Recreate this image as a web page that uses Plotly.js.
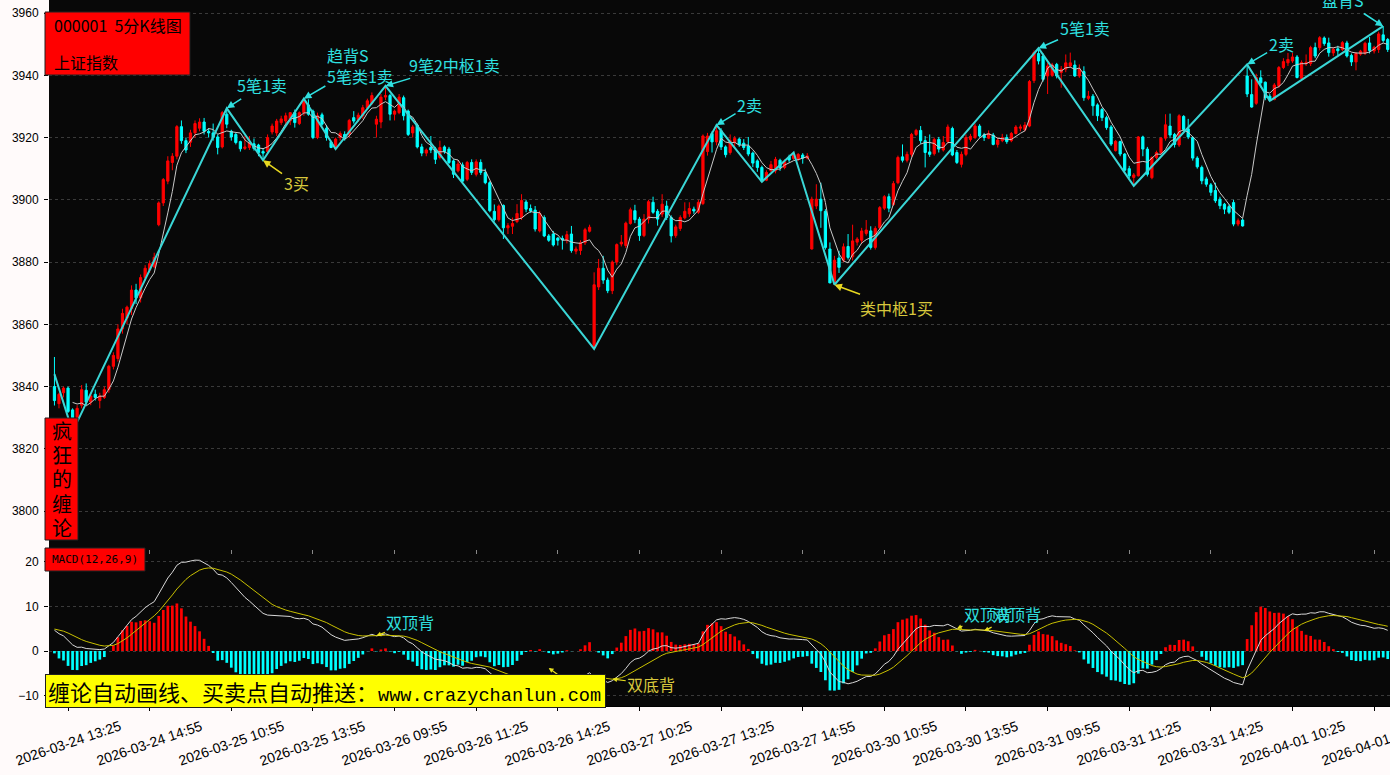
<!DOCTYPE html>
<html><head><meta charset="utf-8">
<script src="https://cdn.plot.ly/plotly-3.0.1.min.js"></script>
<style>html,body{margin:0;padding:0;background:#fffafa;}#chart{width:1390px;height:775px;}</style>
</head><body><div id="chart"></div>
<script>
// ---- data ----
const tradeDays = ['2026-03-24','2026-03-25','2026-03-26','2026-03-27','2026-03-30','2026-03-31','2026-04-01'];
const firstBar = '2026-03-24 13:10';
const lastBar = '2026-04-01 13:40';
const tickLabels = ['2026-03-24 13:25','2026-03-24 14:55','2026-03-25 10:55','2026-03-25 13:55','2026-03-26 09:55','2026-03-26 11:25','2026-03-26 14:25','2026-03-27 10:25','2026-03-27 13:25','2026-03-27 14:55','2026-03-30 10:55','2026-03-30 13:55','2026-03-31 09:55','2026-03-31 11:25','2026-03-31 14:25','2026-04-01 10:25','2026-04-01 13:25'];
const priceTicks = [3800,3820,3840,3860,3880,3900,3920,3940,3960];
const macdTicks = [-10,0,10,20];

const opens = [
3840,3834.5,3838,3839.5,3832.5,3830,3834,3838.8,3835,3837.5,
3835.5,3836.5,3839,3846.5,3849,3858.5,3862,3865,3871,3868.5,
3875,3877.5,3878.5,3892,3899,3906,3912,3914,3923.5,3919,
3918.5,3921.5,3923,3925,3922,3921.5,3920.2,3917,3927.5,3922,
3921,3918.7,3916.5,3916.8,3918,3917.6,3915.5,3915.5,3921.8,3921.5,
3924.8,3925.3,3925.4,3928,3924.5,3928,3930.5,3928.5,3920,3927.3,
3923,3918.5,3916.5,3920,3921,3921,3926.4,3925.8,3927,3929.5,
3931,3924.3,3925,3933,3933.5,3927.5,3928,3932.8,3928.5,3921.5,
3924,3917,3915,3916.8,3916.3,3913.6,3917,3916.3,3912.5,3909.3,
3911.2,3906.6,3912,3908.2,3912,3908.8,3905.5,3896.3,3893.6,3898.2,
3891,3891.5,3893,3894.3,3899.3,3897.2,3896.7,3890,3894.3,3888.4,
3889,3887.7,3887.6,3887,3889,3883.5,3883.7,3886.2,3889.9,3852.5,
3872,3878,3874.2,3870.8,3880,3885.8,3885.3,3892.4,3896.5,3893.8,
3888.5,3893.8,3899.2,3896.3,3895.4,3898,3894.3,3888.5,3890.8,3894.2,
3895.5,3897,3896,3898.8,3915.5,3921.3,3918.6,3922.2,3917,3915.2,
3918.4,3919.5,3918.2,3917.3,3915,3912.5,3910.4,3906.3,3909.3,3909.3,
3912.7,3910.4,3913.8,3913.3,3913,3914.4,3913.4,3884.2,3898,3900.2,
3896.3,3884.2,3873.3,3881.3,3880.6,3885,3881.7,3886.4,3887,3889.2,
3890,3884.7,3891,3897.3,3901,3898.5,3905.5,3913.8,3912.7,3914.6,
3921,3922.3,3919,3915.4,3914.8,3919.4,3916,3918.7,3922.9,3915.2,
3911.4,3914.6,3919.4,3920,3923.7,3920.9,3919.8,3920.8,3917.8,3919,
3920,3919,3921.3,3923,3922.5,3923.7,3938.3,3947,3946.2,3939.8,
3940,3943.5,3940.9,3942,3943,3943.3,3939.8,3941.2,3932.6,3933.3,
3930.5,3929,3926.4,3923.4,3915.8,3918.7,3914.7,3910,3907.2,3907.7,
3920.2,3916.3,3907.1,3913.6,3915.2,3919.8,3923.7,3921,3917.6,3926.8,
3922.8,3920,3913.4,3910.4,3906.7,3904.8,3903,3900.2,3898.6,3897.8,
3899.1,3892.2,3893.5,3939.8,3933.8,3931,3939.2,3937.8,3933.3,3932.2,
3936.6,3942.5,3944,3944.6,3945.9,3939,3943.7,3943.8,3948.9,3948.9,
3952,3950.4,3947.2,3948.5,3948.3,3950.4,3946.4,3944.3,3946.8,3947.1,
3950.4,3947.8,3948.3,3953,3951.5];
const highs = [
3849.5,3838,3840,3840,3833,3834,3840.5,3841,3838,3839,
3838,3840,3847,3851,3860,3865,3866,3872.5,3873,3876,
3879,3880.5,3883,3899.5,3907,3914,3915,3924,3925.5,3920,
3922.5,3925.5,3926.2,3926.3,3923,3924.5,3921,3928.5,3929.4,3922.5,
3921.5,3919,3920.5,3920.5,3919.7,3918,3916.5,3921,3924.5,3926,
3927,3928,3928.2,3929,3928.4,3932.5,3932.3,3929,3928,3928,
3924,3919,3920,3922,3922,3926,3928.5,3928,3930.5,3932.5,
3934.5,3927,3934,3936.6,3934,3929,3934,3933.5,3929,3924,
3924.5,3918,3916.5,3920.5,3917,3919,3917.5,3917,3913,3912.8,
3912,3912.5,3913,3913,3913,3910,3906,3898.5,3898.5,3898.5,
3892.5,3894.3,3898.6,3901.8,3900,3898.5,3898,3896.5,3895,3889,
3890,3888,3888.5,3890,3891.6,3885,3887,3891,3892,3876.7,
3881,3882,3875,3880.5,3886,3888.7,3893,3897.5,3898.4,3894.5,
3895.4,3900,3901,3897,3901.8,3899.7,3895,3892,3895,3899.2,
3899.2,3897.8,3900,3921,3921.5,3922,3924,3923,3917.5,3921,
3920.5,3920,3919.5,3920.2,3915.5,3913,3911,3909.5,3912.5,3913.8,
3913.2,3913,3914.5,3915.2,3915,3915,3915,3901,3905,3905.5,
3897,3886.3,3882,3883.6,3886,3889,3892,3888,3891,3893.5,
3891.5,3891.5,3898,3901.5,3902,3906,3914.2,3917.8,3915.5,3921.5,
3922.8,3923.7,3920.5,3921,3920,3920.2,3920.5,3924.2,3923.5,3916,
3915.5,3921,3921.2,3924.5,3924.3,3921.5,3922.3,3921.5,3920,3921.2,
3921,3921.8,3924,3924.2,3925,3938.5,3948,3948.7,3947,3944,
3944,3944,3943,3946.7,3947.3,3944.8,3943.5,3942.9,3935,3934,
3931,3929.5,3927,3924,3919.2,3919,3915,3910.9,3908.6,3920.5,
3920.6,3917,3914,3915.8,3920.2,3927.5,3927.7,3921.5,3927.5,3927.2,
3926,3920.4,3914,3911,3907.4,3905.4,3905.5,3901,3899,3898.5,
3900,3894,3894,3943.5,3938.7,3940.5,3941.6,3938,3934,3937.5,
3943,3945.5,3947.2,3947.2,3946.5,3944.8,3946.7,3949.5,3950.5,3952.6,
3952.5,3952.1,3949,3949.5,3951,3951.1,3947,3947.5,3948.2,3950.8,
3952.3,3949.5,3954,3955.8,3952];
const lows = [
3833.9,3833,3836.5,3831.5,3825.5,3829.5,3833,3834,3834,3835.5,
3833,3836,3838,3845.5,3848,3857,3860,3863,3866.5,3867,
3874,3876.5,3878,3891.5,3898,3905,3909.5,3913,3918,3915,
3917,3920,3922,3921,3920,3919,3914.6,3916.5,3923,3919,
3917.8,3915.5,3916,3916,3915.8,3914,3912.7,3915,3921,3920.5,
3924,3924.5,3924,3923.2,3924,3927,3927,3919.5,3919.5,3923.8,
3919,3916.6,3916.3,3919,3919,3920,3924.5,3925,3926,3929,
3930.5,3920,3923,3932,3925.5,3925.5,3927.5,3925.5,3920.5,3920,
3916.5,3914,3914,3915,3911.5,3913,3914.8,3911.5,3907,3908.8,
3905.5,3906,3908,3907.5,3908,3905,3896,3893,3893,3887.4,
3889,3889,3892.5,3893.5,3896,3895.8,3889.8,3889.5,3888,3886.5,
3885,3885.3,3884,3886,3883,3882.5,3882.3,3885.5,3889.5,3852.1,
3871,3873,3870,3869.7,3879,3885,3884.5,3892,3892.5,3886.8,
3888,3892.4,3895.5,3891.7,3894.5,3893.5,3886.3,3887.8,3890,3893.7,
3894.5,3895.5,3895.5,3898.3,3914.2,3915.2,3917.5,3916,3913.6,3914.5,
3917,3917,3916,3914,3910.5,3909,3905.8,3906,3909,3908.5,
3909.3,3909.8,3912,3912.8,3912.5,3911.6,3913,3884,3897,3891,
3884,3873.2,3872.7,3876.5,3880,3880.8,3880.5,3885.3,3886,3888.5,
3884,3884,3890.5,3896.7,3896,3898,3905,3912,3912,3913.8,
3920.5,3918,3910.4,3913.8,3914.2,3915.2,3915.5,3918,3914,3911.5,
3910.4,3914,3918.7,3919.5,3920,3918.9,3919.5,3917.5,3916.8,3918.5,
3918,3918.5,3921,3922,3922,3923.3,3937.5,3943.5,3938,3934,
3939.5,3939,3936,3941,3942.5,3939.5,3939.2,3931.8,3932,3927,
3925.3,3925.3,3922.5,3917.3,3915.5,3914,3909,3907,3904.5,3907.5,
3914,3907.5,3906.6,3913,3914.5,3919,3919.8,3916.8,3917,3922,
3919.5,3912.6,3910,3905,3904.2,3901.3,3899,3897,3895.4,3895.4,
3891.5,3891.5,3891.4,3933,3929.6,3930.5,3936.1,3932,3931.8,3932,
3936,3942,3943,3944,3939,3938.5,3943,3943,3945.5,3948,
3949.5,3946,3946.2,3946.5,3947.8,3945.7,3943,3941.6,3946.3,3946.5,
3947,3947,3947.2,3950.5,3947.5];
const closes = [
3835.5,3837.5,3839.5,3832,3830,3833,3839,3835,3837,3836.5,
3837,3839,3846.5,3850,3858.5,3863.5,3865.5,3871,3868.5,3875,
3878,3879.5,3881.5,3899,3906.5,3912.5,3914,3923.5,3919,3916,
3921.5,3924.5,3925,3922,3921.5,3920,3916.8,3928,3924.3,3920.2,
3918.4,3916.4,3917,3918.4,3916.5,3915.2,3915,3920,3923.7,3925.3,
3926,3927,3928,3924.8,3928,3931.7,3927.5,3920,3927,3924.3,
3920,3916.8,3919.5,3921.3,3919.6,3925.5,3925.3,3927.2,3929.6,3931.8,
3933.5,3925.9,3933,3933.5,3927.5,3928.5,3933,3927,3921,3923.4,
3917,3915,3916,3916,3913,3916.8,3915.5,3912,3908.2,3911.5,
3906,3912,3908.8,3912.2,3908.8,3905.5,3896.5,3893.6,3898,3891,
3891.7,3892.4,3895.6,3899.8,3897,3896.4,3890.6,3895.6,3888.4,3887,
3885.5,3887,3887.1,3888.8,3883.7,3884.2,3886.2,3890.4,3891.2,3872.7,
3878,3874.2,3870.8,3880,3885.6,3886.4,3892.5,3896.8,3893.6,3888.5,
3893.8,3899.4,3896,3893.8,3898.6,3894.3,3888.4,3891.3,3894.3,3896.3,
3897.2,3896.4,3899.2,3920.5,3920.5,3918.6,3922.2,3917,3914.5,3919,
3919.7,3917.7,3916.8,3914.7,3911.8,3910.4,3906,3908.8,3911.3,3913,
3910.4,3912.2,3912.8,3914.5,3914.6,3913.4,3914.1,3900.2,3900.2,3896.5,
3884.7,3873.3,3880.6,3878.3,3884.9,3881.5,3886.8,3887.4,3890,3890.3,
3884.7,3890.8,3897.5,3901,3897.3,3905.2,3913.6,3912.7,3914.6,3921,
3922.3,3919,3915.2,3914.6,3919.4,3916.3,3918.4,3923.4,3914.4,3912,
3914.6,3920,3920.4,3923.7,3920.5,3920,3921.3,3917.8,3919.2,3920,
3918.7,3921.3,3923.4,3923.4,3924,3938,3947.3,3944.6,3938.7,3943,
3943.3,3939.8,3942,3944,3944,3939.8,3942,3932.8,3933.3,3930.2,
3927,3926.4,3923.2,3917.9,3918.8,3914.7,3909.5,3907.7,3908,3920.2,
3916.3,3908.2,3913.6,3915.2,3919.8,3924.1,3920.8,3917.8,3927,3922.6,
3920.2,3913.4,3910.6,3906.1,3905,3902.4,3899.7,3898.1,3897,3896,
3892.2,3893.3,3891.6,3934,3929.8,3939.3,3937.6,3932.8,3932,3936.9,
3942.5,3944.4,3945.1,3945.9,3939.3,3944.1,3944.2,3948.9,3946.2,3952.1,
3950.2,3947.3,3948.4,3947.9,3950.5,3946.2,3944.3,3947,3947.8,3950.3,
3948,3949,3953.3,3951.2,3948.3];

// Chan-theory stroke (笔) endpoints drawn as the cyan zigzag
const pivotTimes = ['2026-03-24 13:10','2026-03-24 13:30','2026-03-25 10:50','2026-03-25 11:30','2026-03-25 13:45','2026-03-25 14:20','2026-03-26 09:45','2026-03-27 09:35','2026-03-27 13:20','2026-03-27 14:10','2026-03-27 14:45','2026-03-30 10:00','2026-03-31 09:45','2026-03-31 11:30','2026-04-01 09:35','2026-04-01 10:00','2026-04-01 13:35'];
const pivotPrices = [3844,3825.5,3929.4,3912.7,3932.5,3916.3,3936.6,3852.1,3924.0,3905.8,3915.2,3872.7,3948.7,3904.5,3943.5,3931.8,3955.8];
// signal labels: pivot number, text, kind
const signalPivot = [2,4,6,3,8,11,12,14,16];
const signalText = ['5笔1卖','趋背S<br>5笔类1卖','9笔2中枢1卖','3买','2卖','类中枢1买','5笔1卖','2卖','盘背S'];
const signalBuy = [false,false,false,true,false,true,false,false,false];
// MACD divergence notes: bar time, indicator value, text
const macdNoteTimes = ['2026-03-26 14:15','2026-03-26 09:35','2026-03-27 09:55','2026-03-30 13:45','2026-03-30 14:15'];
const macdNoteValues = [-3.8,3.4,-6.3,5.0,4.5];
const macdNoteText = ['双底背','双顶背','双底背','双顶背','双顶背'];
// MACD state just before the first visible bar (read from the first DIF / DEA values)
const macdSeedEma12 = 3844.3, macdSeedEma26 = 3838.5, macdSeedDea = 5.0;
const sideTitle = ['疯','狂','的','缠','论'];

// ---- build the bar time axis from the trading sessions ----
function sessionTimes(){
  const t=[];
  for(let m=9*60+35;m<=11*60+30;m+=5)t.push(m);
  for(let m=13*60+5;m<=15*60;m+=5)t.push(m);
  return t.map(m=>String(Math.floor(m/60)).padStart(2,'0')+':'+String(m%60).padStart(2,'0'));
}
let allTimes=[];
tradeDays.forEach(d=>sessionTimes().forEach(s=>allTimes.push(d+' '+s)));
const barTimes = allTimes.slice(allTimes.indexOf(firstBar), allTimes.indexOf(lastBar)+1);

// MA5 of closes
const ma5 = closes.map((c,i)=> i<4 ? null : closes.slice(i-4,i+1).reduce((a,b)=>a+b,0)/5);
// MACD(12,26,9)
let e12=macdSeedEma12, e26=macdSeedEma26, dea=macdSeedDea;
const dif=[], deaArr=[], hist=[];
closes.forEach(c=>{
  e12 = e12*11/13 + c*2/13;
  e26 = e26*25/27 + c*2/27;
  const d = e12-e26;
  dea = dea*8/10 + d*2/10;
  dif.push(d); deaArr.push(dea); hist.push(2*(d-dea));
});

const CYAN='#00ffff', RED='#ff0000';
const LBLC='#2fe0e0', LBLY='#d8c83c';
const cjk='"Noto Sans CJK SC", "Noto Sans", sans-serif';

const traces = [
 {type:'candlestick', x:barTimes, open:opens, high:highs, low:lows, close:closes, xaxis:'x', yaxis:'y',
  increasing:{line:{color:RED,width:1},fillcolor:RED}, decreasing:{line:{color:CYAN,width:1},fillcolor:CYAN},
  whiskerwidth:0, hoverinfo:'skip', showlegend:false},
 {type:'scatter', mode:'lines', x:barTimes, y:ma5, xaxis:'x', yaxis:'y', line:{color:'#c8c8c8',width:1}, hoverinfo:'skip', showlegend:false},
 {type:'scatter', mode:'lines', x:pivotTimes, y:pivotPrices, xaxis:'x', yaxis:'y', line:{color:'#3ad6d6',width:2}, hoverinfo:'skip', showlegend:false},
 {type:'bar', x:barTimes, y:hist, xaxis:'x2', yaxis:'y2', width:0.6,
  marker:{color:hist.map(v=>v>=0?RED:CYAN), line:{width:0}}, hoverinfo:'skip', showlegend:false},
 {type:'scatter', mode:'lines', x:barTimes, y:dif, xaxis:'x2', yaxis:'y2', line:{color:'#d8d8d8',width:1}, hoverinfo:'skip', showlegend:false},
 {type:'scatter', mode:'lines', x:barTimes, y:deaArr, xaxis:'x2', yaxis:'y2', line:{color:'#c8c000',width:1}, hoverinfo:'skip', showlegend:false}
];

const annotations = [];
// signal labels on the strokes
signalPivot.forEach((k,j)=>{
  const offs = [[35,-23],[56,-33],[69,-21],[33,23],[33,-20],[62,23],[46,-20],[34,-20],[-40,-34]][j];
  annotations.push({x:pivotTimes[k], y:pivotPrices[k], xref:'x', yref:'y', text:signalText[j],
    showarrow:true, ax:offs[0], ay:offs[1], arrowcolor:signalBuy[j]?'#e8d820':LBLC, arrowwidth:1.5, arrowhead:2, arrowsize:1,
    font:{family:cjk,size:16,color:signalBuy[j]?LBLY:LBLC}, align:'left'});
});
// MACD notes (first one sits under the banner)
macdNoteTimes.forEach((t,j)=>{
  const offs=[[30,22],[34,-14],[39,5],[31,-15],[33,-17]][j];
  const isBottom = macdNoteText[j]==='双底背';
  annotations.push({x:t, y:macdNoteValues[j], xref:'x2', yref:'y2', text:macdNoteText[j], showarrow:true,
    ax:offs[0], ay:offs[1], arrowcolor:'#e8e020', arrowwidth:1.2, arrowhead:2, arrowsize:0.8,
    font:{family:cjk,size:16,color:isBottom?LBLY:LBLC}});
});
// info boxes
const px = v => (v-49)/1341, py = v => (706-v)/706;
annotations.push({x:px(52),y:py(25),xref:'paper',yref:'paper',xanchor:'left',yanchor:'middle',showarrow:false,text:'000001  5分K线图',font:{family:cjk,size:16,color:'#000'}});
annotations.push({x:px(52),y:py(62),xref:'paper',yref:'paper',xanchor:'left',yanchor:'middle',showarrow:false,text:'上证指数',font:{family:cjk,size:16,color:'#000'}});
sideTitle.forEach((ch,k)=>annotations.push({x:px(61.5),y:py(430+24.4*k),xref:'paper',yref:'paper',xanchor:'center',yanchor:'middle',showarrow:false,text:ch,font:{family:cjk,size:20,color:'#000'}}));
annotations.push({x:px(95),y:py(559.5),xref:'paper',yref:'paper',xanchor:'center',yanchor:'middle',showarrow:false,text:'MACD(12,26,9)',font:{family:'"DejaVu Sans Mono", monospace',size:11,color:'#000'}});
annotations.push({x:px(45),y:py(691),xref:'paper',yref:'paper',xanchor:'left',yanchor:'middle',showarrow:false,
  width:555,height:28,borderpad:2,borderwidth:1,bordercolor:'#202020',bgcolor:'#ffff00',align:'left',valign:'middle',
  text:'缠论自动画线、买卖点自动推送：<span style="font-family:\'Liberation Mono\', \'DejaVu Sans Mono\', monospace;font-size:18.6px">www.crazychanlun.com</span>',
  font:{family:cjk,size:22,color:'#000'}});
// rotated date labels centred on the ticks
tickLabels.forEach(t=>annotations.push({x:t,y:py(743),xref:'x2',yref:'paper',text:t,showarrow:false,textangle:-19,
  xanchor:'center',yanchor:'middle',font:{family:'"Liberation Sans", Arial, sans-serif',size:14,color:'#000'}}));

const shapes = [
 {type:'rect',xref:'paper',yref:'paper',x0:px(45),x1:px(190),y0:py(75),y1:py(12),fillcolor:RED,line:{color:'#202020',width:1},layer:'above'},
 {type:'rect',xref:'paper',yref:'paper',x0:px(45),x1:px(78),y0:py(540),y1:py(418),fillcolor:RED,line:{color:'#202020',width:1},layer:'above'},
 {type:'rect',xref:'paper',yref:'paper',x0:px(45),x1:px(145),y0:py(571),y1:py(548),fillcolor:RED,line:{color:'#202020',width:1},layer:'above'}
];

const yAxisCommon = {ticks:'outside',ticklen:4,tickcolor:'#000',tickfont:{family:'"Liberation Sans", Arial, sans-serif',size:12,color:'#000'},
  showgrid:true,gridcolor:'#3a3a3a',griddash:'dot',gridwidth:1,zeroline:false,showline:false,fixedrange:true,ticklabelstandoff:3};
const layout = {
  width:1390,height:775,margin:{l:49,r:0,t:0,b:69},paper_bgcolor:'#fffafa',plot_bgcolor:'#080808',
  showlegend:false,hovermode:false,bargap:0.4,
  xaxis:{type:'category',domain:[0,1],anchor:'y',range:[-1.2,294.5],rangeslider:{visible:false},tickmode:'array',tickvals:tickLabels,
    showticklabels:false,ticks:'outside',ticklen:4,tickcolor:'#888',showgrid:false,zeroline:false,showline:false,fixedrange:true},
  xaxis2:{type:'category',domain:[0,1],anchor:'y2',matches:'x',range:[-1.2,294.5],tickmode:'array',tickvals:tickLabels,
    showticklabels:false,ticks:'outside',ticklen:4,tickcolor:'#000',showgrid:false,zeroline:false,showline:true,linecolor:'#000',fixedrange:true},
  yaxis:Object.assign({domain:[py(549),1],range:[3787.8,3964.2],tickmode:'array',tickvals:priceTicks},yAxisCommon),
  yaxis2:Object.assign({domain:[0,py(549)],range:[-12.36,22.92],tickmode:'array',tickvals:macdTicks},yAxisCommon),
  annotations:annotations, shapes:shapes
};
Plotly.newPlot('chart',traces,layout,{displayModeBar:false,staticPlot:true});
</script></body></html>
